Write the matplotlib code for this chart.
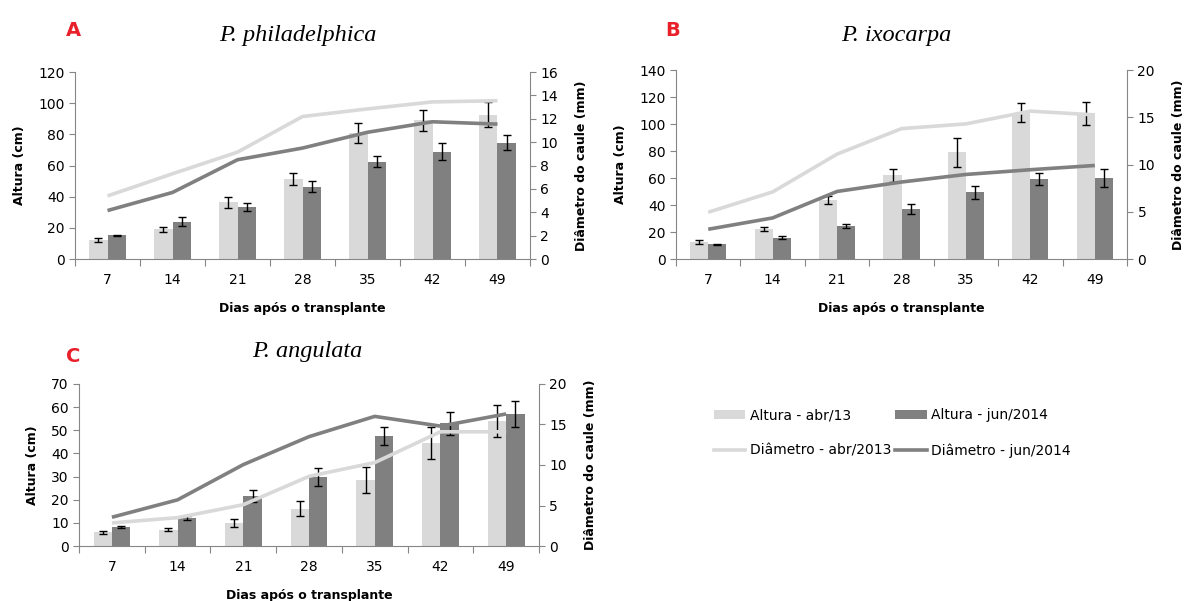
import matplotlib
matplotlib.use("Agg")
import matplotlib.pyplot as plt
from matplotlib.patches import Patch
from matplotlib.lines import Line2D
import numpy as np

days = ["7", "14", "21", "28", "35", "42", "49"]

# A - P. philadelphica
a_alt_abr = [12.3, 19.0, 36.5, 51.3, 81.0, 89.0, 92.5]
a_alt_abr_err = [1.5, 1.5, 3.5, 4.0, 6.5, 7.0, 8.0]
a_alt_jun = [15.2, 24.0, 33.4, 46.5, 62.5, 69.0, 74.6]
a_alt_jun_err = [0.5, 3.0, 2.3, 3.4, 3.7, 5.2, 4.8]
a_diam_abr = [5.4, 7.3, 9.15, 12.2, 12.85, 13.45, 13.55]
a_diam_jun = [4.15, 5.7, 8.5, 9.5, 10.85, 11.75, 11.55]

# B - P. ixocarpa
b_alt_abr = [12.6, 22.2, 43.6, 61.9, 79.0, 108.5, 108.0]
b_alt_abr_err = [1.3, 1.8, 3.0, 4.5, 11.0, 7.0, 8.5]
b_alt_jun = [10.8, 15.8, 24.4, 37.0, 49.3, 59.2, 59.9]
b_alt_jun_err = [0.5, 1.2, 1.5, 3.7, 5.0, 4.5, 6.8]
b_diam_abr = [4.95, 7.1, 11.1, 13.8, 14.3, 15.65, 15.25]
b_diam_jun = [3.15, 4.35, 7.15, 8.15, 8.95, 9.45, 9.9]

# C - P. angulata
c_alt_abr = [6.0, 7.0, 9.9, 16.1, 28.5, 44.4, 53.9]
c_alt_abr_err = [0.6, 0.6, 1.8, 3.3, 5.8, 7.0, 6.9]
c_alt_jun = [8.2, 12.2, 21.7, 29.8, 47.6, 53.0, 57.0]
c_alt_jun_err = [0.6, 0.8, 2.6, 3.7, 4.0, 5.0, 5.6]
c_diam_abr = [2.85, 3.5, 5.1, 8.6, 10.3, 14.1, 14.1]
c_diam_jun = [3.55, 5.7, 10.05, 13.5, 16.0, 14.8, 16.3]

LIGHT = "#d9d9d9"
DARK = "#808080"
SPINE = "#868686"

fig = plt.figure(figsize=(11.87, 6.01), dpi=100)


def panel(rect, alt_abr, e_abr, alt_jun, e_jun, d_abr, d_jun, ymax, ystep, y2max, y2step):
    ax = fig.add_axes(rect)
    x = np.arange(len(days))
    w = 0.28
    ax.bar(x - w / 2, alt_abr, w, color=LIGHT, zorder=2)
    ax.bar(x + w / 2, alt_jun, w, color=DARK, zorder=2)
    ax.errorbar(x - w / 2, alt_abr, yerr=e_abr, fmt="none", ecolor="black",
                elinewidth=1, capsize=3, capthick=1, zorder=3)
    ax.errorbar(x + w / 2, alt_jun, yerr=e_jun, fmt="none", ecolor="black",
                elinewidth=1, capsize=3, capthick=1, zorder=3)
    ax.set_xlim(-0.5, len(days) - 0.5)
    ax.set_ylim(0, ymax)
    ax.set_yticks(np.arange(0, ymax + 1, ystep))
    ax.set_xticks(np.arange(-0.5, len(days), 1.0))
    ax.set_xticklabels([])
    ax.set_xticks(x, minor=True)
    ax.set_xticklabels(days, minor=True)
    ax.tick_params(axis="x", which="major", length=5, color=SPINE, direction="out")
    ax.tick_params(axis="x", which="minor", length=0, pad=10, labelsize=10)
    ax.tick_params(axis="y", length=4, color=SPINE, labelsize=10)
    ax.spines["top"].set_visible(False)
    ax.spines["right"].set_visible(False)
    for s in ("left", "bottom"):
        ax.spines[s].set_color(SPINE)
    ax.set_ylabel("Altura (cm)", fontsize=9, fontweight="bold", labelpad=9)
    ax.set_xlabel("Dias após o transplante", fontsize=9, fontweight="bold", labelpad=11)

    ax2 = ax.twinx()
    ax2.plot(x, d_abr, color=LIGHT, lw=2.6, solid_capstyle="butt", zorder=4)
    ax2.plot(x, d_jun, color=DARK, lw=2.6, solid_capstyle="butt", zorder=4)
    ax2.set_ylim(0, y2max)
    ax2.set_yticks(np.arange(0, y2max + 0.1, y2step))
    ax2.tick_params(axis="y", length=4, color=SPINE, labelsize=10)
    ax2.spines["top"].set_visible(False)
    ax2.spines["left"].set_visible(False)
    ax2.spines["bottom"].set_visible(False)
    ax2.spines["right"].set_color(SPINE)
    ax2.set_ylabel("Diâmetro do caule (mm)", fontsize=9, fontweight="bold", labelpad=12)
    return ax, ax2


panel([0.0632, 0.569, 0.3833, 0.311], a_alt_abr, a_alt_abr_err, a_alt_jun, a_alt_jun_err,
      a_diam_abr, a_diam_jun, 120, 20, 16, 2)
panel([0.5695, 0.569, 0.380, 0.3145], b_alt_abr, b_alt_abr_err, b_alt_jun, b_alt_jun_err,
      b_diam_abr, b_diam_jun, 140, 20, 20, 5)
panel([0.0666, 0.0915, 0.3875, 0.2696], c_alt_abr, c_alt_abr_err, c_alt_jun, c_alt_jun_err,
      c_diam_abr, c_diam_jun, 70, 10, 20, 5)

title_kw = dict(family="Liberation Serif", style="italic", fontsize=17.5, ha="center", va="center")
fig.text(298 / 1187, 1 - 35 / 601, "P. philadelphica", **title_kw)
fig.text(896 / 1187, 1 - 35 / 601, "P. ixocarpa", **title_kw)
fig.text(307 / 1187, 1 - 352 / 601, "P. angulata", **title_kw)

lab_kw = dict(color="#e8202a", fontweight="bold", fontsize=14, ha="center", va="center")
fig.text(73 / 1187, 1 - 30 / 601, "A", **lab_kw)
fig.text(673 / 1187, 1 - 30 / 601, "B", **lab_kw)
fig.text(73 / 1187, 1 - 357 / 601, "C", **lab_kw)

handles = [
    Patch(facecolor=LIGHT, label="Altura - abr/13"),
    Line2D([], [], color=LIGHT, lw=2.6, label="Diâmetro - abr/2013"),
    Patch(facecolor=DARK, label="Altura - jun/2014"),
    Line2D([], [], color=DARK, lw=2.6, label="Diâmetro - jun/2014"),
]
fig.legend(handles=handles, ncol=2, loc="upper left", bbox_to_anchor=(701 / 1187, 1 - 396 / 601),
           frameon=False, fontsize=10, handlelength=2.3, handleheight=0.6,
           handletextpad=0.3, columnspacing=0.3, labelspacing=1.5)

fig.savefig("out.png", dpi=100)
